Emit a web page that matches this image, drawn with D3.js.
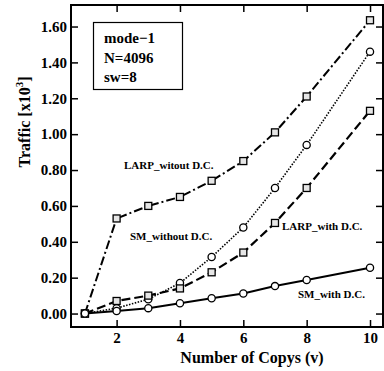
<!DOCTYPE html>
<html>
<head>
<meta charset="utf-8">
<script src="https://cdn.jsdelivr.net/npm/d3@7"></script>
<style>
  body { margin: 0; background: #fff; }
  svg text { font-family: "Liberation Serif", "DejaVu Serif", serif; font-weight: bold; fill: #000; }
</style>
</head>
<body>
<svg width="384" height="371"></svg>
<script>
var copies = [1, 2, 3, 4, 5, 6, 7, 8, 10];
var larpWithout = [0.00, 0.53, 0.60, 0.65, 0.74, 0.85, 1.01, 1.21, 1.635];
var smWithout   = [0.00, 0.03, 0.08, 0.17, 0.315, 0.48, 0.70, 0.94, 1.46];
var larpWith    = [0.00, 0.07, 0.10, 0.14, 0.23, 0.34, 0.505, 0.70, 1.13];
var smWith      = [0.00, 0.014, 0.03, 0.057, 0.085, 0.112, 0.153, 0.187, 0.255];
var xTicks = [2, 4, 6, 8, 10];
var yTicks = [0, 0.2, 0.4, 0.6, 0.8, 1.0, 1.2, 1.4, 1.6];
var infoLines = ["mode\u22121", "N=4096", "sw=8"];

var series = [
    {name: "LARP_witout D.C.", values: larpWithout, marker: "square", dash: "9,3,2,3", width: 2, lx: 124, ly: 169},
    {name: "SM_without D.C.", values: smWithout, marker: "circle", dash: "1.5,1.5", width: 1.6, lx: 130, ly: 240},
    {name: "LARP_with D.C.", values: larpWith, marker: "square", dash: "9,4", width: 2.2, lx: 282, ly: 230},
    {name: "SM_with D.C.", values: smWith, marker: "circle", dash: null, width: 2, lx: 298, ly: 298}
];

var svg = d3.select("svg"),
    margin = {top: 5, right: 1, bottom: 44, left: 71},
    width = +svg.attr("width") - margin.left - margin.right,
    height = +svg.attr("height") - margin.top - margin.bottom;

var x = d3.scaleLinear().domain([0.56, 10.41]).range([0, width]);
var y = d3.scaleLinear().domain([-0.075, 1.72]).range([height, 0]);

var g = svg.append("g")
    .attr("transform", "translate(" + margin.left + "," + margin.top + ")");

function styleAxis(sel) {
    sel.select(".domain").remove();
    sel.selectAll(".tick line").attr("stroke", "#000").attr("stroke-width", 1.5);
    sel.selectAll(".tick text").style("font-size", "15px");
}

g.append("g")
    .attr("transform", "translate(0," + height + ")")
    .call(d3.axisBottom(x).tickValues(xTicks).tickSizeInner(-7).tickPadding(5).tickFormat(d3.format("d")))
    .call(styleAxis);

g.append("g")
    .call(d3.axisTop(x).tickValues(xTicks).tickSizeInner(-7).tickFormat(""))
    .call(styleAxis);

g.append("g")
    .call(d3.axisLeft(y).tickValues(yTicks).tickSizeInner(-7).tickPadding(4).tickFormat(d3.format(".2f")))
    .call(styleAxis);

g.append("g")
    .attr("transform", "translate(" + width + ",0)")
    .call(d3.axisRight(y).tickValues(yTicks).tickSizeInner(-7).tickFormat(""))
    .call(styleAxis);

g.append("rect")
    .attr("width", width)
    .attr("height", height)
    .attr("fill", "none")
    .attr("stroke", "#000")
    .attr("stroke-width", 2);

var line = d3.line()
    .x(function(d) { return x(d.c); })
    .y(function(d) { return y(d.v); });

series.forEach(function(s) {
    var pts = copies.map(function(c, i) { return {c: c, v: s.values[i]}; });
    g.append("path")
        .datum(pts)
        .attr("fill", "none")
        .attr("stroke", "#000")
        .attr("stroke-width", s.width)
        .attr("stroke-dasharray", s.dash)
        .attr("d", line);
    if (s.marker === "square") {
        g.selectAll(null)
            .data(pts)
            .enter().append("rect")
            .attr("x", function(d) { return x(d.c) - 3.5; })
            .attr("y", function(d) { return y(d.v) - 3.5; })
            .attr("width", 7)
            .attr("height", 7)
            .attr("fill", "#e6e6e6")
            .attr("stroke", "#000")
            .attr("stroke-width", 1.3);
    } else {
        g.selectAll(null)
            .data(pts)
            .enter().append("circle")
            .attr("cx", function(d) { return x(d.c); })
            .attr("cy", function(d) { return y(d.v); })
            .attr("r", 3.6)
            .attr("fill", "#fff")
            .attr("stroke", "#000")
            .attr("stroke-width", 1.3);
    }
    svg.append("text")
        .attr("x", s.lx)
        .attr("y", s.ly)
        .style("font-size", "11px")
        .text(s.name);
});

// info box
svg.append("rect")
    .attr("x", 93.5)
    .attr("y", 22.5)
    .attr("width", 89)
    .attr("height", 67)
    .attr("fill", "#fff")
    .attr("stroke", "#000")
    .attr("stroke-width", 1.2);

svg.selectAll(".info")
    .data(infoLines)
    .enter().append("text")
    .attr("class", "info")
    .attr("x", 104)
    .attr("y", function(d, i) { return 43 + i * 19.5; })
    .style("font-size", "15px")
    .text(function(d) { return d; });

// axis titles
svg.append("text")
    .attr("x", 252)
    .attr("y", 363)
    .attr("text-anchor", "middle")
    .style("font-size", "16px")
    .text("Number of Copys (v)");

var yt = svg.append("text")
    .attr("transform", "translate(30,122) rotate(-90)")
    .attr("text-anchor", "middle")
    .style("font-size", "16px");
yt.append("tspan").text("Traffic [x10");
yt.append("tspan").attr("dy", -7).style("font-size", "11px").text("3");
yt.append("tspan").attr("dy", 7).text("]");
</script>
</body>
</html>
